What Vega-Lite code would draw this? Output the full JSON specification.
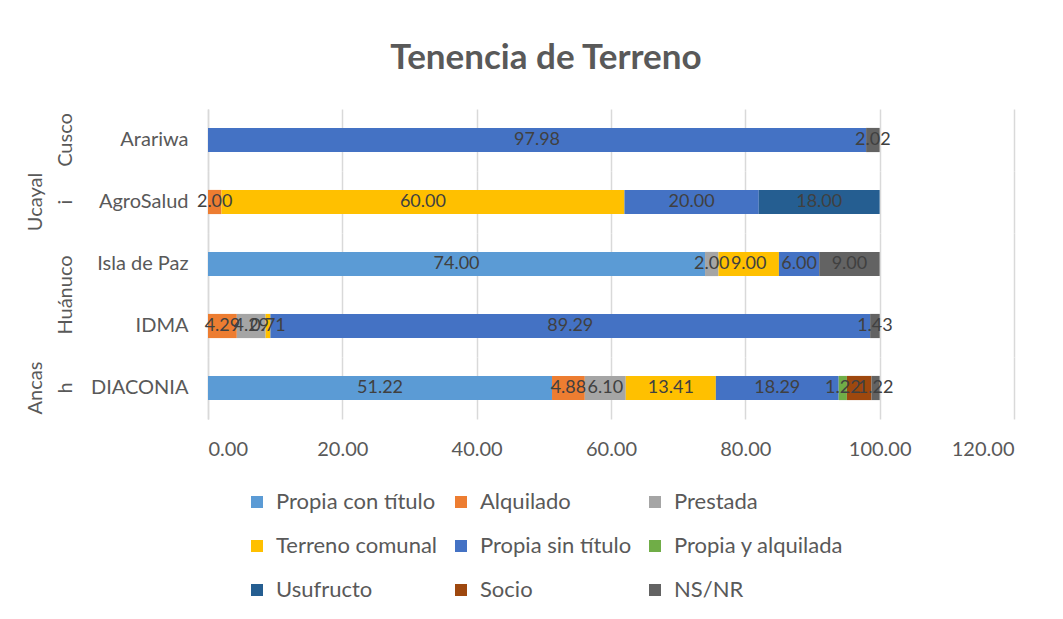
{
  "$schema": "https://vega.github.io/schema/vega-lite/v6.json",
  "padding": {"left": 26, "top": 41, "right": 40, "bottom": 10},
  "background": "white",
  "title": {"text": "Tenencia de Terreno", "font": "Lato", "fontSize": 35, "fontWeight": "bold", "color": "#595959", "anchor": "middle", "offset": 33, "dx": 26},
  "data": {"values": [
    {"region": "Cusco", "org": "Arariwa", "tenencia": "Propia sin título", "orden": 5, "value": 97.98},
    {"region": "Cusco", "org": "Arariwa", "tenencia": "NS/NR", "orden": 9, "value": 2.02},
    {"region": "Ucayali", "org": "AgroSalud", "tenencia": "Alquilado", "orden": 2, "value": 2.00},
    {"region": "Ucayali", "org": "AgroSalud", "tenencia": "Terreno comunal", "orden": 4, "value": 60.00},
    {"region": "Ucayali", "org": "AgroSalud", "tenencia": "Propia sin título", "orden": 5, "value": 20.00},
    {"region": "Ucayali", "org": "AgroSalud", "tenencia": "Usufructo", "orden": 7, "value": 18.00},
    {"region": "Huánuco", "org": "Isla de Paz", "tenencia": "Propia con título", "orden": 1, "value": 74.00},
    {"region": "Huánuco", "org": "Isla de Paz", "tenencia": "Prestada", "orden": 3, "value": 2.00},
    {"region": "Huánuco", "org": "Isla de Paz", "tenencia": "Terreno comunal", "orden": 4, "value": 9.00},
    {"region": "Huánuco", "org": "Isla de Paz", "tenencia": "Propia sin título", "orden": 5, "value": 6.00},
    {"region": "Huánuco", "org": "Isla de Paz", "tenencia": "NS/NR", "orden": 9, "value": 9.00},
    {"region": "Huánuco", "org": "IDMA", "tenencia": "Alquilado", "orden": 2, "value": 4.29},
    {"region": "Huánuco", "org": "IDMA", "tenencia": "Prestada", "orden": 3, "value": 4.29},
    {"region": "Huánuco", "org": "IDMA", "tenencia": "Terreno comunal", "orden": 4, "value": 0.71},
    {"region": "Huánuco", "org": "IDMA", "tenencia": "Propia sin título", "orden": 5, "value": 89.29},
    {"region": "Huánuco", "org": "IDMA", "tenencia": "NS/NR", "orden": 9, "value": 1.43},
    {"region": "Ancash", "org": "DIACONIA", "tenencia": "Propia con título", "orden": 1, "value": 51.22},
    {"region": "Ancash", "org": "DIACONIA", "tenencia": "Alquilado", "orden": 2, "value": 4.88},
    {"region": "Ancash", "org": "DIACONIA", "tenencia": "Prestada", "orden": 3, "value": 6.10},
    {"region": "Ancash", "org": "DIACONIA", "tenencia": "Terreno comunal", "orden": 4, "value": 13.41},
    {"region": "Ancash", "org": "DIACONIA", "tenencia": "Propia sin título", "orden": 5, "value": 18.29},
    {"region": "Ancash", "org": "DIACONIA", "tenencia": "Propia y alquilada", "orden": 6, "value": 1.22},
    {"region": "Ancash", "org": "DIACONIA", "tenencia": "Socio", "orden": 8, "value": 3.66},
    {"region": "Ancash", "org": "DIACONIA", "tenencia": "NS/NR", "orden": 9, "value": 1.22}
  ]},
  "facet": {
    "row": {
      "field": "region",
      "type": "nominal",
      "sort": ["Cusco", "Ucayali", "Huánuco", "Ancash"],
      "title": null,
      "header": {
        "labelAngle": -90,
        "labelOrient": "left",
        "labelFont": "Lato",
        "labelFontSize": 20,
        "labelColor": "#595959",
        "labelBaseline": "bottom",
        "labelAlign": "center",
        "labelLineHeight": 30,
        "labelPadding": -6,
        "labelExpr": "datum.value == 'Ucayali' ? ['Ucayal', 'i'] : datum.value == 'Ancash' ? ['Ancas', 'h'] : datum.value"
      }
    }
  },
  "spacing": 0,
  "resolve": {"scale": {"y": "independent"}},
  "spec": {
    "width": 806,
    "height": {"step": 62},
    "encoding": {
      "y": {
        "field": "org",
        "type": "nominal",
        "sort": ["Arariwa", "AgroSalud", "Isla de Paz", "IDMA", "DIACONIA"],
        "scale": {"paddingInner": 0.61, "paddingOuter": 0.305},
        "axis": {"title": null, "ticks": false, "domainColor": "#d9d9d9", "domainWidth": 1.5, "labelFont": "Lato", "labelFontSize": 20, "labelColor": "#595959", "labelPadding": 20}
      },
      "x": {
        "field": "value",
        "type": "quantitative",
        "stack": "zero",
        "scale": {"domain": [0, 120], "nice": false},
        "axis": {"title": null, "values": [0, 20, 40, 60, 80, 100, 120], "format": ".2f", "domain": false, "ticks": false, "labelFont": "Lato", "labelFontSize": 20, "labelColor": "#595959", "labelPadding": 20, "gridColor": "#d9d9d9", "gridWidth": 1.5}
      },
      "order": {"field": "orden", "type": "quantitative", "sort": "ascending"}
    },
    "layer": [
      {
        "mark": {"type": "bar"},
        "encoding": {
          "color": {
            "field": "tenencia",
            "type": "nominal",
            "scale": {
              "domain": ["Propia con título", "Alquilado", "Prestada", "Terreno comunal", "Propia sin título", "Propia y alquilada", "Usufructo", "Socio", "NS/NR"],
              "range": ["#5B9BD5", "#ED7D31", "#A5A5A5", "#FFC000", "#4472C4", "#70AD47", "#255E91", "#9E480E", "#636363"]
            },
            "legend": {
              "title": null,
              "orient": "none",
              "legendX": 38,
              "legendY": 382,
              "direction": "horizontal",
              "columns": 3,
              "symbolType": "square",
              "symbolSize": 144,
              "symbolStrokeWidth": 0,
              "labelFont": "Lato",
              "labelFontSize": 22,
              "labelLimit": 400,
              "labelColor": "#595959",
              "labelOffset": 8,
              "columnPadding": 12,
              "rowPadding": 22
            }
          }
        }
      },
      {
        "mark": {"type": "text", "font": "Lato", "fontSize": 18, "color": "#404040"},
        "encoding": {
          "x": {"field": "value", "type": "quantitative", "stack": "zero", "bandPosition": 0.5},
          "detail": {"field": "tenencia", "type": "nominal"},
          "text": {"condition": {"test": "datum.tenencia == 'Socio'", "value": ""}, "field": "value", "type": "quantitative", "format": ".2f"}
        }
      }
    ]
  },
  "config": {"view": {"stroke": null}}
}
